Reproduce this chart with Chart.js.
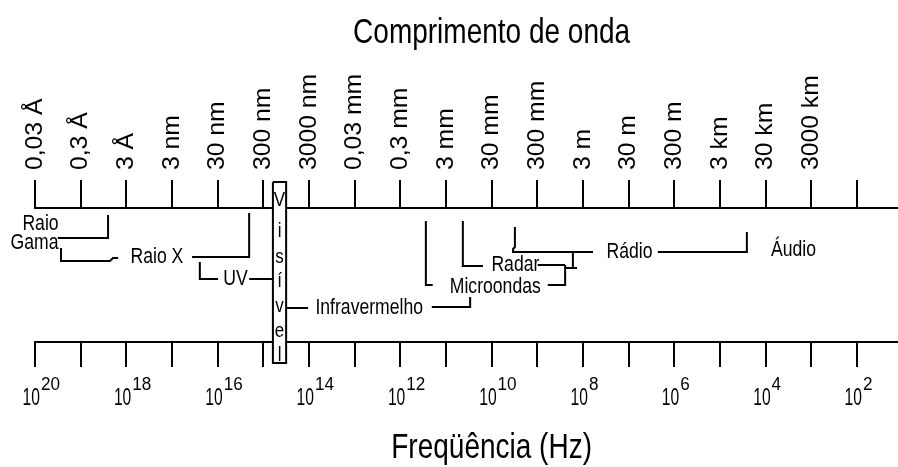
<!DOCTYPE html>
<html><head><meta charset="utf-8">
<script src="https://cdn.jsdelivr.net/npm/chart.js@4/dist/chart.umd.min.js"></script>
<style>html,body{margin:0;padding:0;background:#fff;}canvas{display:block;}</style>
</head><body>
<canvas id="c" width="898" height="467"></canvas>
<script>
// Frequency decades (log10 of Hz): one tick per decade on both axes
const decades = [20,19,18,17,16,15,14,13,12,11,10,9,8,7,6,5,4,3,2];
// Wavelength labels on the top axis, same decades (last tick unlabeled)
const wavelengthLabels = ['0,03 Å','0,3 Å','3 Å','3 nm','30 nm','300 nm','3000 nm','0,03 mm','0,3 mm','3 mm','30 mm','300 mm','3 m','30 m','300 m','3 km','30 km','3000 km',''];
// Exponents labelled on the bottom (frequency) axis
const freqExponents = [20,18,16,14,12,10,8,6,4,2];

// Band brackets: [decade, height above the frequency axis]
const gammaBracket   = [[19.50,104],[18.40,104],[18.40,127]];
const xrayLeft       = [[19.43,94],[19.43,81],[18.36,81],[18.29,84],[18.18,84]];
const xrayRight      = [[16.56,85],[15.31,85],[15.31,129]];
const uvLeft         = [[16.39,80],[16.39,63],[15.99,63]];
const uvRight        = [[15.31,63],[14.79,63]];
const irLeft         = [[14.48,34],[14.02,34]];
const irRight        = [[11.31,35],[10.47,35],[10.47,45]];
const microLeft      = [[11.44,121],[11.44,57],[11.29,57]];
const microRight     = [[8.77,57],[8.39,57],[8.39,77]];
const radarLeft      = [[10.63,121],[10.63,76],[10.19,76]];
const radarRight     = [[8.99,77],[8.39,77]];
const radarMicroJoin = [[8.39,74],[8.13,74]];
const radarMicroUp   = [[8.22,74],[8.22,90]];
const radioLeft      = [[9.49,115],[9.49,95],[9.53,93],[9.53,90],[7.78,90]];
const radioRight     = [[6.36,90],[4.41,90],[4.41,110]];
const visibleBox     = [[14.79,160],[14.50,160],[14.50,-21],[14.79,-21],[14.79,160]];

// Band names: [text, decade, height]
const bandNames = [
  ['Raio', 19.88, 118], ['Gama', 20.01, 99], ['Raio X', 17.33, 85], ['UV', 15.61, 63],
  ['Infravermelho', 12.68, 34], ['Microondas', 9.92, 55], ['Radar', 9.48, 77],
  ['Rádio', 6.98, 90], ['Áudio', 3.39, 92]
];
const visibleLetters = ['V','i','s','í','v','e','l'];
const visibleLetterHeights = [142,111,85,61,36,11,-13];
const visibleDecade = 14.645;

const titleTop = 'Comprimento de onda';
const titleBottom = 'Freqüência (Hz)';

const X_MIN = 1.1, X_MAX = 20;
const FONT = "'Liberation Sans', Arial, Helvetica, sans-serif";

function txt(ctx, s, x, y, size, sx, align, baseline, rot) {
  ctx.save();
  ctx.translate(x, y);
  if (rot) ctx.rotate(rot);
  ctx.scale(sx, 1);
  ctx.font = size + 'px ' + FONT;
  ctx.textAlign = align;
  ctx.textBaseline = baseline;
  ctx.fillStyle = '#000';
  ctx.fillText(s, 0, 0);
  ctx.restore();
}

const brackets = [gammaBracket, xrayLeft, xrayRight, uvLeft, uvRight, irLeft, irRight,
  microLeft, microRight, radarLeft, radarRight, radarMicroJoin, radarMicroUp, radioLeft, radioRight];

const datasets = brackets.map(b => ({
  data: b.map(([x, y]) => ({x, y})),
  showLine: true, borderColor: '#000', borderWidth: 2, pointRadius: 0,
  fill: false, tension: 0, clip: false
}));
datasets.push({
  data: visibleBox.map(([x, y]) => ({x, y})),
  showLine: true, borderColor: '#000', borderWidth: 2, pointRadius: 0,
  fill: false, tension: 0, clip: false
});

const labelsPlugin = {
  id: 'spectrumLabels',
  beforeDatasetsDraw(chart) {
    const ctx = chart.ctx, xs = chart.scales.x, ys = chart.scales.y;
    const x1 = xs.getPixelForValue(visibleBox[0][0]), x2 = xs.getPixelForValue(visibleBox[1][0]);
    const y1 = ys.getPixelForValue(visibleBox[0][1]), y2 = ys.getPixelForValue(visibleBox[2][1]);
    ctx.save();
    ctx.fillStyle = '#fff';
    ctx.fillRect(Math.min(x1, x2), Math.min(y1, y2), Math.abs(x2 - x1), Math.abs(y2 - y1));
    ctx.restore();
  },
  afterDraw(chart) {
    const ctx = chart.ctx, xs = chart.scales.x, ys = chart.scales.y, xt = chart.scales.xTop;
    // top wavelength labels (rotated)
    const topY = xt.bottom - 28 - 10;
    decades.forEach((d, i) => {
      const lab = wavelengthLabels[i];
      if (!lab) return;
      txt(ctx, lab, xt.getPixelForValue(d), topY, 24, 1.03, 'left', 'middle', -Math.PI / 2);
    });
    // bottom frequency labels 10^n
    freqExponents.forEach(e => {
      const px = xs.getPixelForValue(e);
      txt(ctx, '10', px + 5, xs.top + 63, 23, 0.68, 'right', 'alphabetic');
      txt(ctx, String(e), px + 6, xs.top + 48, 18, 0.95, 'left', 'alphabetic');
    });
    // band names
    bandNames.forEach(([s, d, h]) => {
      txt(ctx, s, xs.getPixelForValue(d), ys.getPixelForValue(h), 22, 0.8, 'center', 'middle');
    });
    visibleLetters.forEach((s, i) => {
      txt(ctx, s, xs.getPixelForValue(visibleDecade), ys.getPixelForValue(visibleLetterHeights[i]), 20, 0.85, 'center', 'middle');
    });
    // titles
    txt(ctx, titleTop, xs.getPixelForValue(10), 43, 35, 0.8, 'center', 'alphabetic');
    txt(ctx, titleBottom, xs.getPixelForValue(10), 458, 35, 0.8, 'center', 'alphabetic');
  }
};

function axisOpts(position, tickLen, h) {
  return {
    type: 'linear', position, reverse: true, min: X_MIN, max: X_MAX,
    afterBuildTicks: s => { s.ticks = decades.map(v => ({value: v})); },
    afterFit: s => { s.height = h; s.paddingLeft = 0; s.paddingRight = 0; },
    ticks: {display: false},
    grid: {drawOnChartArea: false, drawTicks: true, tickLength: tickLen, color: '#000', lineWidth: 2},
    border: {display: true, color: '#000', width: 2}
  };
}

new Chart(document.getElementById('c'), {
  type: 'scatter',
  data: {datasets},
  options: {
    responsive: false, animation: false, events: [],
    layout: {padding: {left: 35, right: 0, top: 0, bottom: 0}},
    plugins: {legend: {display: false}, tooltip: {enabled: false}},
    scales: {
      x: axisOpts('bottom', 25, 125),
      xTop: axisOpts('top', 28, 208),
      y: {type: 'linear', display: false, min: 0, max: 134}
    }
  },
  plugins: [labelsPlugin]
});
</script>
</body></html>
